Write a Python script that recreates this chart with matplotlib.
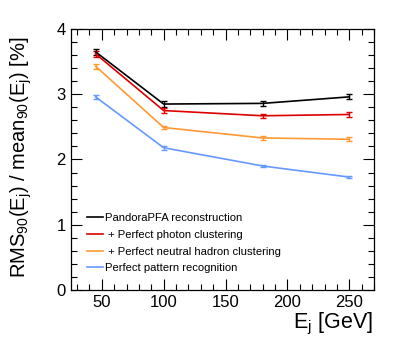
import matplotlib
matplotlib.use("Agg")
import matplotlib.pyplot as plt
from matplotlib.ticker import MultipleLocator
from matplotlib.lines import Line2D

plt.rcParams['font.family'] = ['Liberation Sans', 'DejaVu Sans']
plt.rcParams['mathtext.fontset'] = 'custom'
plt.rcParams['mathtext.rm'] = 'Liberation Sans'
plt.rcParams['mathtext.it'] = 'Liberation Sans'

energies = [45, 100, 180, 250]
labels = ["PandoraPFA reconstruction",
          " + Perfect photon clustering",
          " + Perfect neutral hadron clustering",
          "Perfect pattern recognition"]
pandora = [3.65, 2.85, 2.86, 2.96]
pandora_err = [0.05, 0.04, 0.04, 0.04]
photon = [3.62, 2.75, 2.67, 2.69]
photon_err = [0.05, 0.04, 0.03, 0.04]
neutral = [3.43, 2.49, 2.33, 2.31]
neutral_err = [0.04, 0.03, 0.03, 0.03]
perfect = [2.96, 2.18, 1.90, 1.73]
perfect_err = [0.03, 0.03, 0.02, 0.02]
colors = ['#000000', '#dd0000', '#ff9933', '#6699ff']

fig = plt.figure(figsize=(4.07, 3.54), dpi=100)
ax = fig.add_axes([0.174, 0.181, 0.745, 0.737])

series = [(pandora, pandora_err), (photon, photon_err), (neutral, neutral_err), (perfect, perfect_err)]
for (vals, errs), c, lab in zip(series, colors, labels):
    ax.errorbar(energies, vals, yerr=errs, color=c, lw=1.2, capsize=2.0,
                capthick=1.0, elinewidth=1.0, label=lab)

ax.set_xlim(25, 270)
ax.set_ylim(0, 4)
ax.xaxis.set_major_locator(MultipleLocator(50))
ax.xaxis.set_minor_locator(MultipleLocator(10))
ax.yaxis.set_major_locator(MultipleLocator(1))
ax.yaxis.set_minor_locator(MultipleLocator(0.2))
ax.tick_params(which='both', direction='in', top=True, right=True, width=0.8, labelsize=12)
ax.tick_params(which='major', length=8)
ax.tick_params(which='minor', length=4)
for s in ax.spines.values():
    s.set_linewidth(0.9)

fig.text(0.052, 0.555, r"RMS$_{90}$(E$_{\rm j}$) / mean$_{90}$(E$_{\rm j}$) [%]",
         rotation=90, ha='center', va='center', fontsize=14.5)
fig.text(0.917, 0.073, r"E$_{\rm j}$ [GeV]", ha='right', va='baseline', fontsize=15.5)

hl = [Line2D([], [], color=c, lw=1.2) for c in colors]
ax.legend(hl, labels, loc='lower left', bbox_to_anchor=(0.02, 0.025), frameon=False,
          fontsize=8.1, handlelength=1.4, handletextpad=0.2, labelspacing=0.6)

fig.savefig("out.png", dpi=100)
